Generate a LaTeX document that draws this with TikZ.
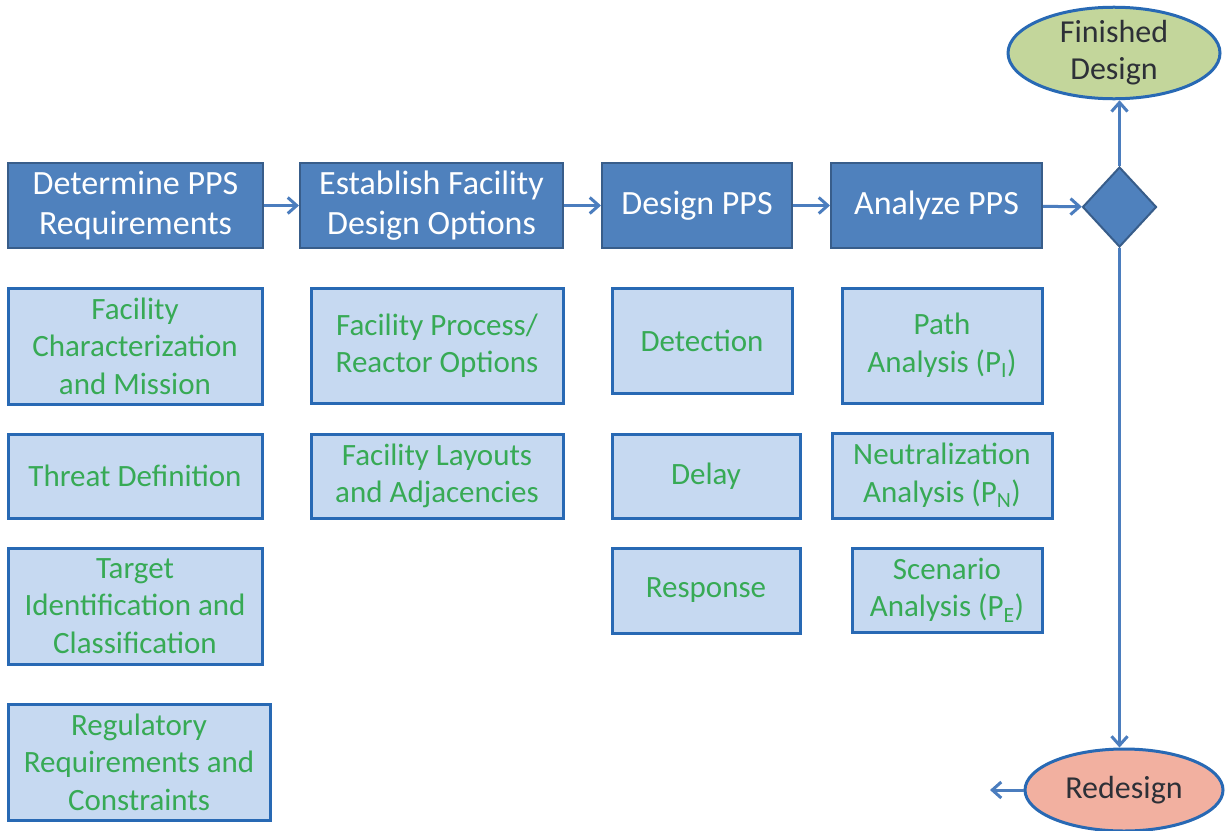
\documentclass[tikz,border=0pt]{standalone}
\usepackage{fontspec}
\setmainfont{Carlito}
\usepackage{tikz}
\usetikzlibrary{arrows.meta, shapes.geometric}
\definecolor{boxdark}{RGB}{79, 129, 189}
\definecolor{edgedark}{RGB}{56, 93, 138}
\definecolor{boxlight}{RGB}{198, 217, 241}
\definecolor{edgelight}{RGB}{40, 105, 180}
\definecolor{txtgreen}{RGB}{55, 170, 85}
\definecolor{txtdark}{RGB}{45, 48, 55}
\definecolor{lineblue}{RGB}{75, 125, 190}
\definecolor{donefill}{RGB}{195, 214, 155}
\definecolor{redofill}{RGB}{242, 176, 160}

\begin{document}
\begin{tikzpicture}[x=1pt, y=-1pt,
  stage/.style={rectangle, draw=edgedark, line width=2pt, fill=boxdark,
    text=white, inner sep=0pt, align=center,
    font=\fontsize{34}{40}\selectfont},
  task/.style={rectangle, draw=edgelight, line width=3pt, fill=boxlight,
    text=txtgreen, inner sep=0pt, align=center,
    font=\fontsize{31}{37.5}\selectfont},
  outcome/.style={ellipse, draw=edgelight, line width=3pt, inner sep=0pt,
    text=txtdark, align=center, font=\fontsize{32}{37}\selectfont},
  flow/.style={draw=lineblue, line width=3pt,
    -{Straight Barb[length=9pt, width=16pt]}}]
  \useasboundingbox[fill=white] (0, 0) rectangle (1225, 830);

  % main steps
  \node[stage, minimum width=255pt, minimum height=85pt] (req) at (135.5, 205.5)
    {Determine PPS\\Requirements};
  \node[stage, minimum width=263pt, minimum height=85pt] (opt) at (431.5, 205.5)
    {Establish Facility\\Design Options};
  \node[stage, minimum width=190pt, minimum height=85pt] (des) at (697, 205.5)
    {Design PPS};
  \node[stage, minimum width=211pt, minimum height=85pt] (ana) at (936.5, 205.5)
    {Analyze PPS};
  \node[diamond, draw=edgedark, line width=2pt, fill=boxdark, inner sep=0pt,
    minimum width=74pt, minimum height=80pt] (dec) at (1119.5, 207) {};

  % outcomes
  \node[outcome, fill=donefill, minimum width=212pt, minimum height=91pt] (done)
    at (1114, 53) {Finished\\Design};
  \node[outcome, fill=redofill, minimum width=198pt, minimum height=82pt] (redo)
    at (1124, 790) {Redesign};
  \coordinate (back) at (990, 790);

  % requirements
  \node[task, minimum width=254pt, minimum height=116pt] (fac) at (135, 346)
    {Facility\\Characterization\\and Mission};
  \node[task, minimum width=254pt, minimum height=84pt] (thr) at (135, 476)
    {Threat Definition};
  \node[task, minimum width=254pt, minimum height=116pt] (tar) at (135, 606)
    {Target\\Identification and\\Classification};
  \node[task, minimum width=262pt, minimum height=116pt] (reg) at (139, 762)
    {Regulatory\\Requirements and\\Constraints};

  % design options
  \node[task, minimum width=252pt, minimum height=115pt] (proc) at (437, 345.5)
    {Facility Process/\\Reactor Options};
  \node[task, minimum width=252pt, minimum height=84pt] (lay) at (437, 476)
    {Facility Layouts\\and Adjacencies};

  % PPS functions
  \node[task, minimum width=180pt, minimum height=105pt] (det) at (702, 340.5)
    {Detection};
  \node[task, minimum width=188pt, minimum height=84pt] (del) at (706, 476)
    {Delay};
  \node[task, minimum width=188pt, minimum height=85pt] (resp) at (706, 590.5)
    {Response};

  % analysis
  \node[task, minimum width=200pt, minimum height=115pt] (path) at (942, 345.5)
    {Path\\Analysis (P\textsubscript{I})};
  \node[task, minimum width=220pt, minimum height=85pt] (neu) at (942, 475.5)
    {Neutralization\\Analysis (P\textsubscript{N})};
  \node[task, minimum width=190pt, minimum height=84pt] (scen) at (947, 590)
    {Scenario\\Analysis (P\textsubscript{E})};

  \draw[flow] (req) -- (opt);
  \draw[flow] (opt) -- (des);
  \draw[flow] (des) -- (ana);
  \draw[flow] (ana) -- (dec);
  \draw[flow] (dec.north) -- (dec.north |- done.south);
  \draw[flow] (dec.south) -- (dec.south |- redo.north);
  \draw[flow] (redo) -- (back);
\end{tikzpicture}
\end{document}
